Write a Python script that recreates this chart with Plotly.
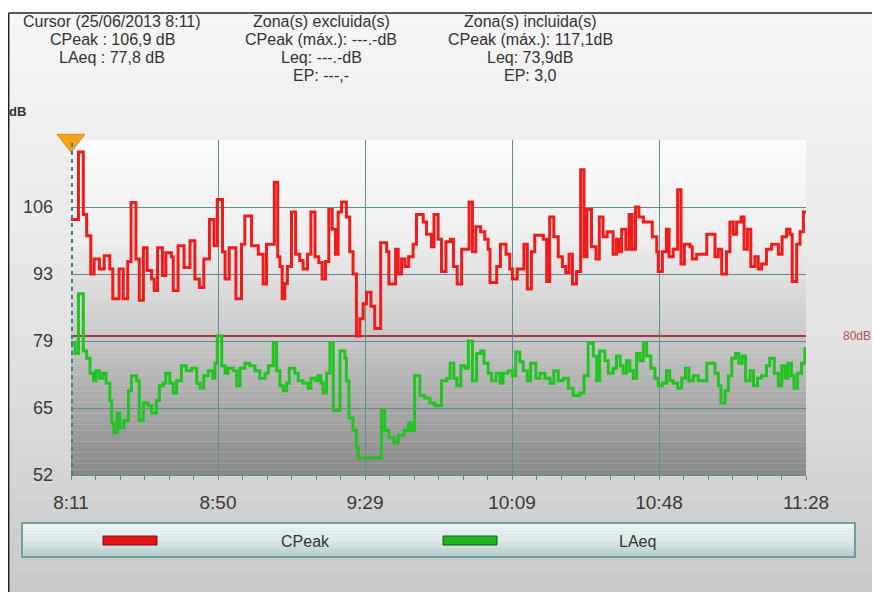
import plotly.graph_objects as go

# ---------------- data ----------------
cpeak_min = [0, 2.0, 3.3, 4.2, 5.3, 6.2, 7.6, 8.9, 10.4, 11.2, 12.9, 14.0, 15.2, 16.1, 17.4, 18.3, 19.4, 20.4,
             21.6, 22.3, 23.2, 24.5, 25.4, 26.9, 27.4, 28.7, 30.3, 31.9, 33.2, 34.4, 35.6, 37.1, 38.3, 39.2,
             40.6, 41.3, 42.4, 44.2, 45.7, 46.6, 48.4, 50.2, 51.5, 52.4, 54.5, 55.4, 56.0, 56.6, 57.3, 58.0,
             59.1, 60.2, 61.3, 62.2, 63.4, 64.3, 65.4, 66.4, 67.3, 68.2, 69.1, 70.0, 70.9, 71.6, 72.5, 73.8,
             74.7, 75.6, 76.5, 77.4, 78.3, 79.2, 80.4, 81.4, 83.0, 84.6, 85.2, 87.0, 87.7, 88.6, 89.5, 90.5,
             91.7, 92.6, 94.4, 95.3, 96.6, 97.3, 98.4, 99.3, 100.5, 101.7, 102.5, 103.5, 104.7, 106.7, 107.6,
             108.5, 109.8, 110.9, 111.8, 112.3, 114.1, 115.1, 116.6, 117.6, 118.3, 119.6, 121.4, 122.3, 123.4,
             124.3, 126.6, 127.5, 128.3, 129.4, 130.6, 131.7, 132.6, 133.5, 134.4, 135.5, 136.6, 137.5, 138.3,
             139.5, 140.7, 141.6, 142.6, 143.7, 145.3, 146.2, 146.9, 147.6, 148.7, 149.6, 150.4, 151.3, 152.2,
             153.4, 155.8, 157.0, 157.4, 158.5, 159.6, 160.3, 161.4, 162.6, 163.5, 164.4, 165.9, 166.5, 167.7,
             170.4, 172.6, 173.5, 174.4, 175.7, 176.6, 177.5, 178.4, 179.6, 180.4, 181.3, 182.2, 183.3, 184.2,
             185.1, 186.4, 187.8, 189.6, 190.6, 191.8, 192.7, 193.3, 194.5, 195.4, 196.3, 197]
cpeak_db = [103.5, 117.1, 104.5, 100.2, 92.5, 95.5, 93.5, 96.2, 93.5, 87.5, 93.5, 87.5, 95.0, 106.9, 95.5, 87.2,
            97.8, 93.2, 91.5, 89.2, 97.8, 92.2, 96.8, 96.0, 89.2, 98.2, 93.8, 99.2, 91.5, 89.8, 95.5, 103.5,
            98.2, 107.5, 97.0, 91.5, 97.8, 87.5, 98.5, 104.2, 98.2, 96.5, 90.5, 98.5, 111.0, 96.0, 94.0, 87.5,
            90.6, 94.0, 105.0, 96.5, 95.2, 93.5, 96.5, 105.0, 96.0, 94.8, 91.5, 95.0, 105.5, 101.5, 96.5,
            105.0, 107.0, 104.0, 97.0, 92.5, 80.0, 83.5, 86.5, 88.8, 86.0, 81.5, 98.8, 97.0, 90.5, 97.5, 92.5,
            95.5, 94.0, 96.0, 98.5, 104.5, 103.0, 100.5, 98.0, 104.5, 99.5, 93.0, 99.0, 99.5, 94.0, 90.5, 97.5,
            107.0, 97.0, 102.0, 101.0, 99.5, 97.5, 90.8, 94.0, 98.5, 96.5, 93.5, 91.5, 93.5, 98.5, 89.5, 97.0,
            100.3, 99.5, 91.0, 104.0, 100.0, 96.0, 94.0, 92.8, 96.5, 90.5, 93.0, 113.5, 96.0, 105.5, 98.0,
            95.5, 104.0, 100.0, 101.0, 96.5, 99.5, 97.0, 101.5, 97.5, 104.5, 97.5, 106.0, 104.0, 103.0, 100.0,
            97.0, 93.0, 97.0, 101.5, 96.0, 97.5, 109.5, 94.5, 98.5, 98.0, 95.5, 96.5, 100.5, 96.0, 97.5, 92.5,
            97.0, 103.0, 100.5, 103.0, 104.0, 97.5, 101.5, 94.0, 96.0, 93.5, 94.5, 97.5, 98.5, 96.5, 100.0,
            101.5, 100.5, 91.0, 98.5, 101.0, 105.0, 105.0]

laeq_min = [0, 1.1, 2.0, 3.3, 4.2, 5.1, 6.0, 6.7, 7.6, 8.5, 9.4, 10.4, 10.9, 11.5, 12.4, 13.1, 14.2, 15.4, 16.2,
            17.6, 18.3, 19.4, 20.7, 21.6, 22.9, 23.7, 24.7, 25.4, 26.5, 27.4, 28.3, 29.6, 30.9, 32.3, 33.7,
            34.6, 35.6, 36.8, 38.0, 38.6, 39.2, 40.4, 41.3, 42.1, 43.5, 44.4, 45.3, 46.6, 47.9, 49.3, 50.6,
            52.0, 52.9, 54.2, 55.1, 56.0, 56.9, 57.8, 58.5, 60.0, 60.9, 62.2, 63.6, 64.3, 65.4, 66.2, 67.0,
            67.6, 68.5, 69.4, 70.3, 72.1, 73.4, 73.8, 74.5, 75.6, 76.5, 77.0, 83.2, 84.1, 85.2, 86.6, 87.7,
            89.3, 90.5, 91.3, 92.1, 93.5, 94.8, 96.2, 97.5, 99.3, 100.7, 101.6, 102.6, 103.4, 104.5, 105.6,
            106.5, 107.6, 108.7, 109.8, 110.7, 111.8, 112.7, 113.9, 115.0, 115.8, 117.2, 118.3, 119.2, 120.3,
            121.2, 122.3, 123.2, 124.6, 125.7, 127.0, 128.4, 129.4, 130.6, 131.9, 133.3, 134.6, 136.4, 137.5,
            138.6, 140.0, 140.9, 141.7, 143.1, 144.0, 145.3, 146.2, 147.2, 148.0, 148.9, 149.8, 150.7, 151.6,
            152.5, 153.4, 154.3, 155.4, 156.5, 157.4, 158.5, 159.6, 160.5, 161.4, 162.6, 163.7, 164.7, 165.6,
            166.8, 168.1, 170.4, 172.6, 173.5, 174.2, 175.3, 176.2, 177.1, 178.1, 179.0, 179.9, 180.8, 182.0,
            182.9, 184.0, 185.1, 186.4, 187.3, 188.5, 189.6, 190.5, 191.4, 192.2, 193.1, 193.8, 194.7, 195.8,
            196.7, 197]
laeq_db = [78.5, 76.5, 88.5, 77.0, 75.5, 72.5, 71.0, 73.0, 71.5, 72.5, 70.5, 67.0, 62.5, 60.5, 64.5, 61.5, 63.0,
           69.0, 72.0, 71.0, 63.0, 66.5, 66.0, 64.5, 67.0, 70.0, 70.5, 72.5, 70.5, 68.5, 71.0, 74.0, 73.0,
           73.5, 70.5, 69.5, 72.0, 73.0, 71.5, 74.5, 80.0, 74.0, 72.5, 73.5, 73.0, 70.0, 73.5, 74.5, 74.0,
           73.0, 71.5, 72.5, 74.0, 78.5, 73.0, 70.0, 69.0, 70.5, 73.5, 72.5, 71.0, 70.5, 69.5, 71.5, 71.0,
           72.0, 70.5, 68.5, 72.5, 78.5, 65.0, 77.0, 75.5, 71.0, 63.5, 61.0, 57.5, 55.5, 65.0, 61.0, 59.5,
           58.5, 60.0, 61.0, 62.5, 61.0, 72.0, 68.0, 67.5, 66.5, 66.0, 71.0, 71.5, 74.5, 71.5, 70.0, 74.0,
           73.5, 79.0, 71.0, 76.5, 77.0, 74.5, 72.5, 71.0, 72.5, 70.5, 72.5, 73.0, 72.0, 76.8, 74.8, 73.0,
           71.0, 74.5, 71.5, 72.5, 71.5, 70.5, 73.0, 71.0, 71.5, 69.5, 68.0, 68.5, 72.0, 78.5, 76.0, 71.0,
           77.0, 75.0, 72.5, 73.5, 76.0, 74.0, 72.5, 75.0, 73.0, 71.5, 76.5, 75.0, 78.5, 76.0, 73.5, 71.5,
           70.0, 70.5, 73.0, 71.0, 70.5, 69.5, 71.5, 73.5, 71.0, 72.0, 71.0, 74.5, 72.5, 70.0, 66.5, 69.0,
           72.0, 75.5, 76.5, 74.5, 76.0, 71.0, 73.0, 70.0, 71.5, 72.0, 74.0, 75.5, 72.5, 70.0, 74.0, 71.5,
           74.5, 72.0, 69.5, 72.5, 74.5, 77.5, 77.5]

x_tick_vals = [0, 39.4, 78.8, 118.2, 157.6, 197]
x_tick_text = ["8:11", "8:50", "9:29", "10:09", "10:48", "11:28"]
y_tick_vals = [52, 65.5, 79, 92.5, 106]
y_tick_text = ["52", "65", "79", "93", "106"]
y_range = [52, 119.5]
threshold_db = 80
cursor_min = 0
series_names = ["CPeak", "LAeq"]

header_cols = [
    ["Cursor (25/06/2013 8:11)", "CPeak : 106,9 dB", "LAeq : 77,8 dB"],
    ["Zona(s) excluida(s)", "CPeak (máx.): ---.-dB", "Leq: ---.-dB", "EP: ---,-"],
    ["Zona(s) incluida(s)", "CPeak (máx.): 117,1dB", "Leq: 73,9dB", "EP: 3,0"],
]

# ---------------- layout geometry (reference pixel coords) ----------------
W, H = 880, 592
OFF = 8                       # page body margin offset
PL, PR, PT, PB = 71, 806, 140, 475   # plot area in the reference picture
PW, PH = PR - PL, PB - PT


def px(x):
    return (x - PL) / PW


def py(y):
    return (PB - y) / PH


def lerp(stops, t):
    for (t0, c0), (t1, c1) in zip(stops, stops[1:]):
        if t <= t1:
            f = 0 if t1 == t0 else (t - t0) / (t1 - t0)
            c = [round(a + (b - a) * f) for a, b in zip(c0, c1)]
            return "rgb(%d,%d,%d)" % tuple(c)
    return "rgb(%d,%d,%d)" % tuple(stops[-1][1])


FONT = "Liberation Sans, Arial, sans-serif"
TEAL = "#5f8e8e"
shapes = []
annotations = []

# page background gradient
paper_stops = [(0, (246, 246, 246)), (0.5, (229, 229, 229)), (1, (200, 200, 200))]
N = 40
top, bot = 14, H + OFF
for i in range(N):
    y0 = top + (bot - top) * i / N
    y1 = top + (bot - top) * (i + 1) / N
    shapes.append(dict(type="rect", xref="paper", yref="paper", x0=px(OFF), x1=px(W + OFF), y0=py(y1), y1=py(y0),
                       fillcolor=lerp(paper_stops, (i + 0.5) / N), line_width=0, layer="below"))
shapes.append(dict(type="rect", xref="paper", yref="paper", x0=px(OFF), x1=px(W + OFF), y0=py(14), y1=py(OFF),
                   fillcolor="white", line_width=0, layer="below"))

# plot area gradient
plot_stops = [(0, (252, 252, 252)), (0.3, (238, 238, 238)), (0.6, (198, 198, 198)), (1, (136, 136, 136))]
N = 60
for i in range(N):
    shapes.append(dict(type="rect", xref="x domain", yref="y domain", x0=0, x1=1,
                       y0=1 - (i + 1) / N, y1=1 - i / N,
                       fillcolor=lerp(plot_stops, (i + 0.5) / N), line_width=0, layer="below"))

# threshold line
shapes.append(dict(type="line", xref="x domain", yref="y", x0=0, x1=1, y0=threshold_db, y1=threshold_db,
                   line=dict(color="#a83a3a", width=2), layer="below"))
annotations.append(dict(text="%ddB" % threshold_db, xref="paper", yref="y", x=px(857), y=threshold_db,
                        showarrow=False, font=dict(family=FONT, size=12, color="#b05555"),
                        xanchor="center", yanchor="middle"))

# dotted y axis
shapes.append(dict(type="line", xref="x", yref="y", x0=cursor_min, x1=cursor_min, y0=y_range[0], y1=y_range[1],
                   line=dict(color="#3f8080", width=4, dash="dot"), layer="above"))

# border
shapes.append(dict(type="line", xref="paper", yref="paper", x0=px(8.7), x1=px(W + OFF), y0=py(13), y1=py(13),
                   line=dict(color="#222", width=1.5)))
shapes.append(dict(type="line", xref="paper", yref="paper", x0=px(8.7), x1=px(8.7), y0=py(13), y1=py(H + OFF),
                   line=dict(color="#222", width=1.5)))

# header text
col_x = [112, 321, 530]
line_y = [21, 39, 57, 75]
for cx, lines in zip(col_x, header_cols):
    for ly, txt in zip(line_y, lines):
        annotations.append(dict(text=txt, xref="paper", yref="paper", x=px(cx), y=py(ly), showarrow=False,
                                xanchor="center", yanchor="middle",
                                font=dict(family=FONT, size=16, color="#333")))
annotations.append(dict(text="<b>dB</b>", xref="paper", yref="paper", x=px(28), y=py(111), showarrow=False,
                        xanchor="right", yanchor="middle", font=dict(family=FONT, size=13, color="#333")))

# custom legend box
leg_stops = [(0, (240, 246, 246)), (0.5, (222, 234, 234)), (1, (178, 204, 204))]
N = 12
lx0, lx1, ly0, ly1 = 22, 855, 523, 557
for i in range(N):
    a = ly0 + (ly1 - ly0) * i / N
    b = ly0 + (ly1 - ly0) * (i + 1) / N
    shapes.append(dict(type="rect", xref="paper", yref="paper", x0=px(lx0), x1=px(lx1), y0=py(b), y1=py(a),
                       fillcolor=lerp(leg_stops, (i + 0.5) / N), line_width=0))
shapes.append(dict(type="rect", xref="paper", yref="paper", x0=px(lx0), x1=px(lx1), y0=py(ly1), y1=py(ly0),
                   line=dict(color="#6e9e9e", width=2), fillcolor="rgba(0,0,0,0)"))
sw = [(103, 157, "#e21414", "#7a1010"), (443, 497, "#1fb41f", "#0f5f0f")]
txt_x = [305, 637]
for (a, b, fc, lc), tx, name in zip(sw, txt_x, series_names):
    shapes.append(dict(type="rect", xref="paper", yref="paper", x0=px(a), x1=px(b), y0=py(545), y1=py(536),
                       fillcolor=fc, line=dict(color=lc, width=1)))
    annotations.append(dict(text=name, xref="paper", yref="paper", x=px(tx), y=py(541), showarrow=False,
                            xanchor="center", yanchor="middle",
                            font=dict(family="Liberation Sans Narrow, Arial Narrow, " + FONT, size=16,
                                      color="#333")))

fig = go.Figure()
fig.add_trace(go.Scatter(x=cpeak_min, y=cpeak_db, mode="lines", line_shape="hv", name=series_names[0],
                         line=dict(color="#f01c1c", width=3)))
fig.add_trace(go.Scatter(x=laeq_min, y=laeq_db, mode="lines", line_shape="hv", name=series_names[1],
                         line=dict(color="#22c422", width=3)))
fig.add_trace(go.Scatter(x=[cursor_min], y=[y_range[1] - 0.05], mode="markers", cliponaxis=False,
                         showlegend=False,
                         marker=dict(symbol="triangle-down", size=24, color="#f5a21e",
                                     line=dict(color="#e08a10", width=1)), hoverinfo="skip"))

fig.update_layout(
    width=W, height=H,
    margin=dict(l=PL - OFF, r=W - (PR - OFF), t=PT - OFF, b=H - (PB - OFF)),
    paper_bgcolor="#e6e6e6",
    plot_bgcolor="rgba(0,0,0,0)",
    showlegend=False,
    shapes=shapes,
    annotations=annotations,
    xaxis=dict(range=[0, 197], tickvals=x_tick_vals, ticktext=x_tick_text, showgrid=True, gridcolor=TEAL,
               gridwidth=1, zeroline=False, showline=True, linecolor=TEAL, linewidth=1, ticks="",
               ticklabelstandoff=10, tickfont=dict(family=FONT, size=19, color="#3a3a3a"),
               minor=dict(dtick=39.4 / 6, tick0=0, ticks="outside", ticklen=4, tickcolor=TEAL, showgrid=False)),
    yaxis=dict(range=y_range, tickvals=y_tick_vals, ticktext=y_tick_text, showgrid=True, gridcolor=TEAL,
               gridwidth=1, zeroline=False, showline=False, ticks="", ticklabelstandoff=17,
               tickfont=dict(family=FONT, size=18, color="#3a3a3a")),
)

fig.write_html("out.html")
